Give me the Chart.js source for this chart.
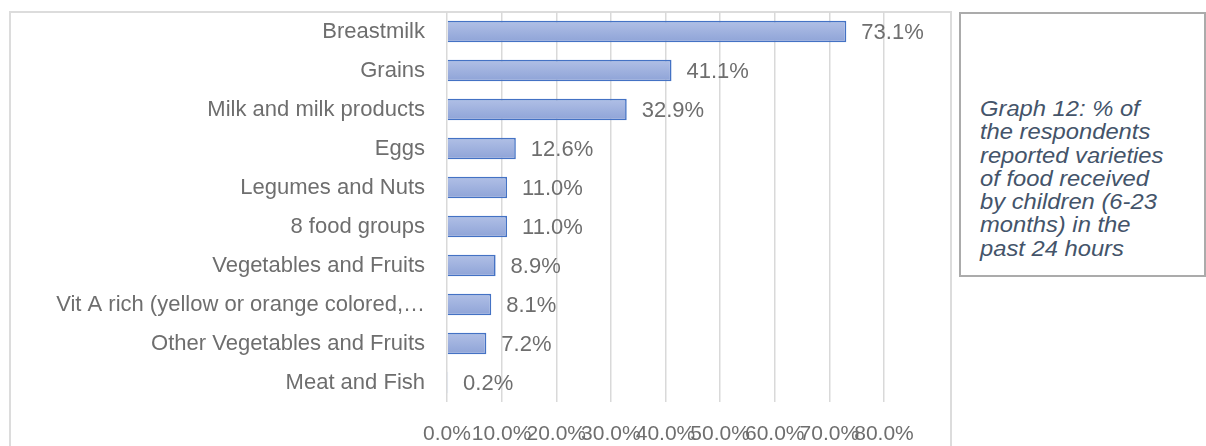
<!DOCTYPE html>
<html>
<head>
<meta charset="utf-8">
<script src="https://cdn.jsdelivr.net/npm/chart.js@4/dist/chart.umd.min.js"></script>
<style>
  html, body { margin: 0; padding: 0; background: #ffffff; width: 1206px; height: 446px; overflow: hidden; }
  #frame { position: absolute; left: 9px; top: 11px; width: 943px; height: 450px; border: 2px solid #dcdcdc; box-sizing: border-box; }
  #wrap { position: absolute; left: 0; top: 0; width: 1206px; height: 446px; }
  #note { position: absolute; left: 959px; top: 12px; width: 247px; height: 265px; border: 2px solid #ababab; box-sizing: border-box; background: #fff; }
  #note .t { position: absolute; left: 19px; top: 84px; font-family: "Liberation Sans", Arial, sans-serif; font-style: italic; font-size: 21.4px; line-height: 23.3px; color: #44546a; transform: scaleX(1.11); transform-origin: 0 0; white-space: nowrap; }
</style>
</head>
<body>
<div id="frame"></div>
<div id="wrap"><canvas id="c" width="1206" height="446"></canvas></div>
<div id="note"><div class="t">Graph 12: % of<br>the respondents<br>reported varieties<br>of food received<br>by children (6-23<br>months) in the<br>past 24 hours</div></div>
<script>
const categories = [
  "Breastmilk",
  "Grains",
  "Milk and milk products",
  "Eggs",
  "Legumes and Nuts",
  "8 food groups",
  "Vegetables and Fruits",
  "Vit A rich (yellow or orange colored,\u2026",
  "Other Vegetables and Fruits",
  "Meat and Fish"
];
const percentValues = [73.1, 41.1, 32.9, 12.6, 11.0, 11.0, 8.9, 8.1, 7.2, 0.2];
const xTickValues = [0, 10, 20, 30, 40, 50, 60, 70, 80];

const FONT = '"Liberation Sans", Arial, sans-serif';
const TEXT_COLOR = '#6e6e6e';

const dataLabels = {
  id: 'dataLabels',
  afterDatasetsDraw(chart) {
    const ctx = chart.ctx;
    const meta = chart.getDatasetMeta(0);
    ctx.save();
    ctx.font = '22px ' + FONT;
    ctx.fillStyle = TEXT_COLOR;
    ctx.textAlign = 'left';
    ctx.textBaseline = 'middle';
    meta.data.forEach((el, i) => {
      const v = chart.data.datasets[0].data[i];
      ctx.fillText(v.toFixed(1) + '%', el.x + 15, el.y + 1);
    });
    ctx.restore();
  }
};

function barGradient(context) {
  const chart = context.chart;
  const ys = chart.scales && chart.scales.y;
  if (context.raw !== undefined && context.raw < 1) return '#4472c4';
  if (!ys || !chart.chartArea || context.dataIndex === undefined) return '#9fb1de';
  const yc = ys.getPixelForValue(context.dataIndex);
  const g = chart.ctx.createLinearGradient(0, yc - 11, 0, yc + 11);
  g.addColorStop(0, '#b1c0e6');
  g.addColorStop(1, '#8ea3d7');
  return g;
}

new Chart(document.getElementById('c'), {
  type: 'bar',
  data: {
    labels: categories,
    datasets: [{
      data: percentValues,
      backgroundColor: barGradient,
      borderColor: '#4472c4',
      borderWidth: 1.6,
      borderSkipped: 'start',
      barPercentage: 0.55,
      categoryPercentage: 1.0
    }]
  },
  options: {
    indexAxis: 'y',
    responsive: false,
    animation: false,
    devicePixelRatio: 1,
    layout: { padding: { left: 0, top: 12, right: 322, bottom: 0 } },
    plugins: { legend: { display: false }, tooltip: { enabled: false } },
    scales: {
      x: {
        min: 0, max: 80,
        afterBuildTicks(axis) { axis.ticks = xTickValues.map(v => ({ value: v })); },
        afterFit(axis) { axis.height = 44; },
        grid: { color: '#d9d9d9', lineWidth: 1.5, drawTicks: false },
        border: { display: false },
        ticks: {
          autoSkip: false, maxRotation: 0, minRotation: 0,
          padding: 20,
          color: TEXT_COLOR,
          font: { family: FONT, size: 21 },
          callback: v => Number(v).toFixed(1) + '%'
        }
      },
      y: {
        afterFit(axis) { axis.width = 447; axis.paddingTop = 0; axis.paddingBottom = 0; },
        grid: { display: false, drawTicks: false },
        border: { display: false },
        ticks: {
          padding: 22,
          color: TEXT_COLOR,
          font: { family: FONT, size: 22 }
        }
      }
    }
  },
  plugins: [dataLabels]
});
</script>
</body>
</html>
